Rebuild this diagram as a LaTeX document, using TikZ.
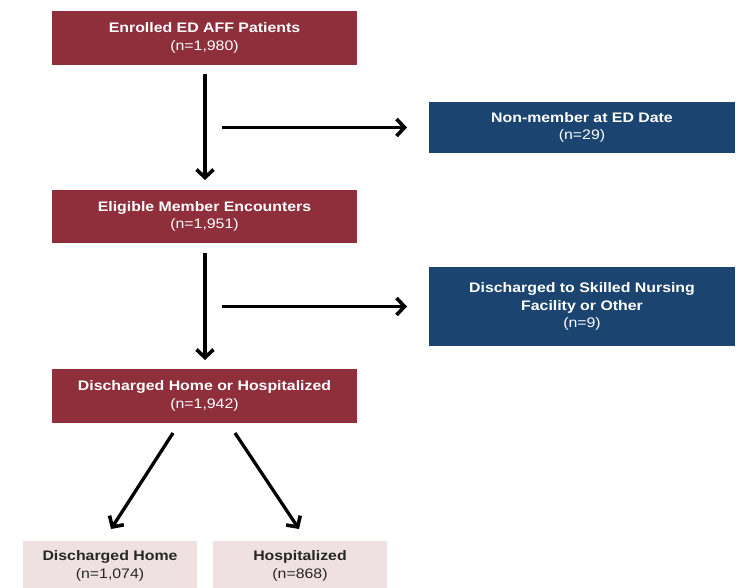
\documentclass[tikz,border=0pt]{standalone}
\usepackage{fontspec}
\setmainfont[FakeStretch=1.15]{Liberation Sans}
\usetikzlibrary{arrows.meta}
\definecolor{boxred}{HTML}{8E2F3B}
\definecolor{boxblue}{HTML}{1B4570}
\definecolor{boxpink}{HTML}{EFE1E1}
\begin{document}
\begin{tikzpicture}[x=1pt,y=-1pt,
  boxbase/.style={draw=none,align=center,inner sep=0pt,font=\fontsize{13.8}{17.5}\selectfont},
  redbox/.style={boxbase,fill=boxred,text=white},
  bluebox/.style={boxbase,fill=boxblue,text=white},
  pinkbox/.style={boxbase,fill=boxpink,text=black!85},
  flow/.style={line width=3.3pt,-{Straight Barb[length=8pt,width=17pt,line width=3.6pt]}}]
\useasboundingbox (0,0) rectangle (738,588);
\node[redbox,minimum width=305pt,minimum height=54pt] (a) at (204.5,38) {\textbf{Enrolled ED AFF Patients}\\(n=1,980)};
\node[bluebox,minimum width=306pt,minimum height=51pt] (n) at (582,127.5) {\textbf{Non-member at ED Date}\\(n=29)};
\node[redbox,minimum width=305pt,minimum height=53pt] (b) at (204.5,216.5) {\textbf{Eligible Member Encounters}\\(n=1,951)};
\node[bluebox,minimum width=306pt,minimum height=79pt] (s) at (582,306.5) {\textbf{Discharged to Skilled Nursing}\\\textbf{Facility or Other}\\(n=9)};
\node[redbox,minimum width=305pt,minimum height=54pt] (c) at (204.5,396) {\textbf{Discharged Home or Hospitalized}\\(n=1,942)};
\node[pinkbox,minimum width=174pt,minimum height=50pt] (h) at (110,566) {\textbf{Discharged Home}\\(n=1,074)};
\node[pinkbox,minimum width=174pt,minimum height=50pt] (p) at (300,566) {\textbf{Hospitalized}\\(n=868)};
\coordinate (a1) at (205,74);
\coordinate (b0) at (205,180);
\coordinate (m1) at (222,127.5);
\coordinate (e1) at (407,127.5);
\coordinate (b1) at (205,253);
\coordinate (c0) at (205,360);
\coordinate (m2) at (222,306.5);
\coordinate (e2) at (407,306.5);
\coordinate (d1) at (173,433);
\coordinate (d2) at (235,433);
\coordinate (f1) at (111,529);
\coordinate (f2) at (299,529);
\draw[flow] (a1) -- (b0);
\draw[flow] (m1) -- (e1);
\draw[flow] (b1) -- (c0);
\draw[flow] (m2) -- (e2);
\draw[flow] (d1) -- (f1);
\draw[flow] (d2) -- (f2);
\end{tikzpicture}
\end{document}
